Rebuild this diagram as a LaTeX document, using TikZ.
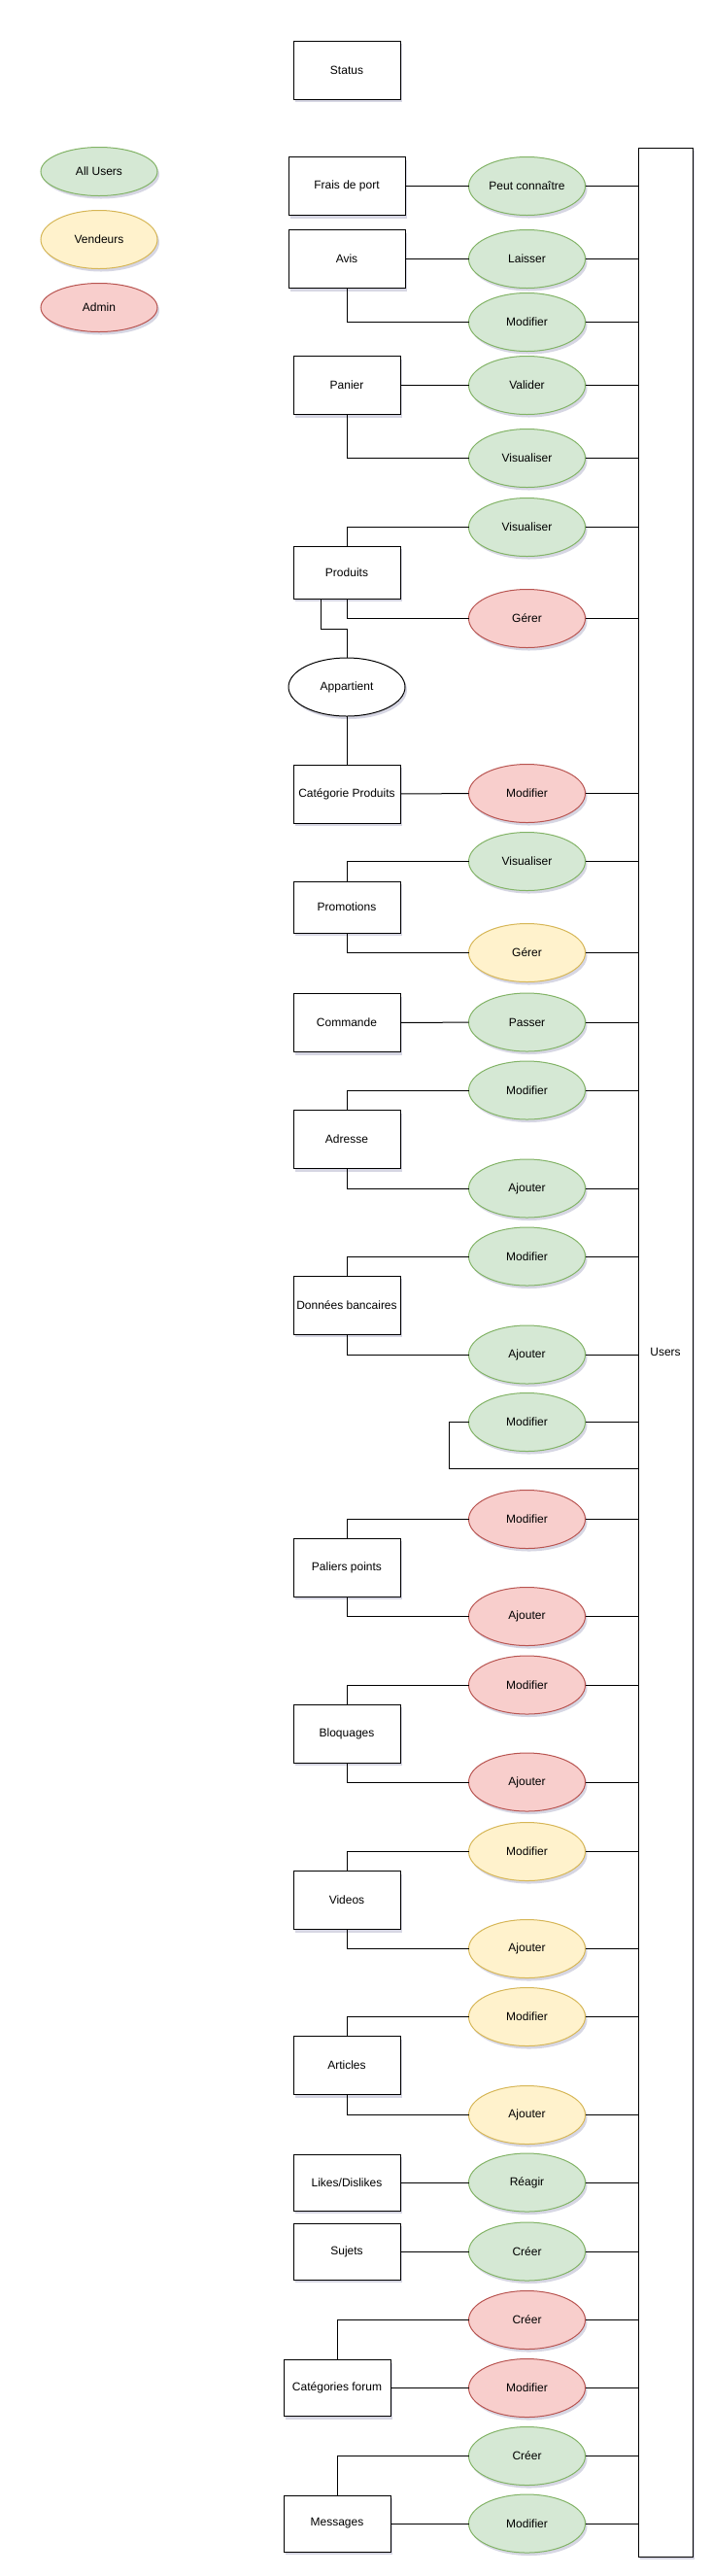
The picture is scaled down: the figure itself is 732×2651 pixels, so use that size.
\documentclass[tikz,border=0pt]{standalone}
\usepackage{fontspec}
\setmainfont{Liberation Sans}
\usetikzlibrary{shapes.geometric,shadows}

\definecolor{greenfill}{HTML}{D5E8D4}
\definecolor{greenline}{HTML}{82B366}
\definecolor{yellowfill}{HTML}{FFF2CC}
\definecolor{yellowline}{HTML}{D6B656}
\definecolor{redfill}{HTML}{F8CECC}
\definecolor{redline}{HTML}{B85450}
\definecolor{shadowcol}{HTML}{B4B4CC}

\begin{document}
\begin{tikzpicture}[x=1pt,y=-1pt,line width=1pt,font=\fontsize{12}{14}\selectfont]
\tikzstyle{every node}+=[inner sep=0pt,outer sep=0pt]
\tikzstyle{shadowed}=[drop shadow={shadow xshift=2pt,shadow yshift=-3pt,fill=shadowcol,opacity=0.55}]
\tikzstyle{entity}=[draw,fill=white,shadowed,minimum width=110pt,minimum height=60pt]
\tikzstyle{action}=[ellipse,draw,shadowed,minimum width=120pt,minimum height=60pt]
\tikzstyle{alluser}=[action,fill=greenfill,draw=greenline]
\tikzstyle{vendeur}=[action,fill=yellowfill,draw=yellowline]
\tikzstyle{admin}=[action,fill=redfill,draw=redline]
\useasboundingbox (0,0) rectangle (732,2651);

\node [alluser,minimum height=50pt] (legAll) at (102,176.5) {All Users};
\node [vendeur] (legVend) at (102,246.5) {Vendeurs};
\node [admin,minimum height=50pt] (legAdmin) at (102,316.5) {Admin};

\node [draw,fill=white,shadowed,minimum width=56pt,minimum height=2479pt] (users) at (685,1391.5) {Users};

\node [entity] (status) at (357,72) {Status};
\node [entity,minimum width=120pt] (frais) at (357,191.5) {Frais de port};
\node [entity,minimum width=120pt] (avis) at (357,266.5) {Avis};
\node [entity] (panier) at (357,396.5) {Panier};
\node [entity,minimum height=54pt] (produits) at (357,589) {Produits};
\node [ellipse,draw,fill=white,shadowed,minimum width=120pt,minimum height=60pt] (appartient) at (357,707) {Appartient};
\node [entity] (catprod) at (357,817) {Catégorie Produits};
\node [entity,minimum height=53pt] (promo) at (357,933.5) {Promotions};
\node [entity] (commande) at (357,1052.5) {Commande};
\node [entity] (adresse) at (357,1172.5) {Adresse};
\node [entity] (donnees) at (357,1343) {Données bancaires};
\node [entity] (paliers) at (357,1613) {Paliers points};
\node [entity] (bloquages) at (357,1784) {Bloquages};
\node [entity] (videos) at (357,1955.5) {Videos};
\node [entity] (articles) at (357,2125.5) {Articles};
\node [entity,minimum height=58pt] (likes) at (357,2246) {Likes/Dislikes};
\node [entity,minimum height=58pt] (sujets) at (357,2317) {Sujets};
\node [entity,minimum height=58pt] (catforum) at (347,2457.5) {Catégories forum};
\node [entity,minimum height=58pt] (messages) at (347,2597) {Messages};

\node [alluser] (act1) at (542.5,191.5) {Peut connaître};
\node [alluser] (act2) at (542.5,266.5) {Laisser};
\node [alluser] (act3) at (542.5,331.5) {Modifier};
\node [alluser] (act4) at (542.5,396.5) {Valider};
\node [alluser] (act5) at (542.5,471.5) {Visualiser};
\node [alluser] (act6) at (542.5,542.5) {Visualiser};
\node [admin] (act7) at (542.5,636.5) {Gérer};
\node [admin] (act8) at (542.5,816.5) {Modifier};
\node [alluser] (act9) at (542.5,886.5) {Visualiser};
\node [vendeur] (act10) at (542.5,980.5) {Gérer};
\node [alluser] (act11) at (542.5,1052) {Passer};
\node [alluser] (act12) at (542.5,1122) {Modifier};
\node [alluser] (act13) at (542.5,1223) {Ajouter};
\node [alluser] (act14) at (542.5,1293) {Modifier};
\node [alluser] (act15) at (542.5,1394) {Ajouter};
\node [alluser] (act16) at (542.5,1463.5) {Modifier};
\node [admin] (act17) at (542.5,1563.5) {Modifier};
\node [admin] (act18) at (542.5,1663.5) {Ajouter};
\node [admin] (act19) at (542.5,1734) {Modifier};
\node [admin] (act20) at (542.5,1834) {Ajouter};
\node [vendeur] (act21) at (542.5,1905.5) {Modifier};
\node [vendeur] (act22) at (542.5,2005.5) {Ajouter};
\node [vendeur] (act23) at (542.5,2075.5) {Modifier};
\node [vendeur] (act24) at (542.5,2176.5) {Ajouter};
\node [alluser] (act25) at (542.5,2246) {Réagir};
\node [alluser] (act26) at (542.5,2317) {Créer};
\node [admin] (act27) at (542.5,2387.5) {Créer};
\node [admin] (act28) at (542.5,2457.5) {Modifier};
\node [alluser] (act29) at (542.5,2527.5) {Créer};
\node [alluser] (act30) at (542.5,2597) {Modifier};

\foreach \i in {1,...,30}
  \draw (act\i.east) -- (act\i.east -| users.west);

\draw (frais) -- (act1);
\draw (avis) -- (act2);
\draw (avis.south) |- (act3.west);
\draw (panier) -- (act4);
\draw (panier.south) |- (act5.west);
\draw (produits.north) |- (act6.west);
\draw (produits.south) |- (act7.west);
\draw (produits.south) ++(-27,0) -- ++(0,31) -| (appartient.north);
\draw (appartient) -- (catprod);
\draw (catprod) -- (act8);
\draw (promo.north) |- (act9.west);
\draw (promo.south) |- (act10.west);
\draw (commande) -- (act11);
\draw (adresse.north) |- (act12.west);
\draw (adresse.south) |- (act13.west);
\draw (donnees.north) |- (act14.west);
\draw (donnees.south) |- (act15.west);
\draw (act16.west) -- ++(-20,0) -- ++(0,48) coordinate (loopend) -- (loopend -| users.west);
\draw (paliers.north) |- (act17.west);
\draw (paliers.south) |- (act18.west);
\draw (bloquages.north) |- (act19.west);
\draw (bloquages.south) |- (act20.west);
\draw (videos.north) |- (act21.west);
\draw (videos.south) |- (act22.west);
\draw (articles.north) |- (act23.west);
\draw (articles.south) |- (act24.west);
\draw (likes) -- (act25);
\draw (sujets) -- (act26);
\draw (catforum.north) |- (act27.west);
\draw (catforum) -- (act28);
\draw (messages.north) |- (act29.west);
\draw (messages) -- (act30);
\end{tikzpicture}
\end{document}
